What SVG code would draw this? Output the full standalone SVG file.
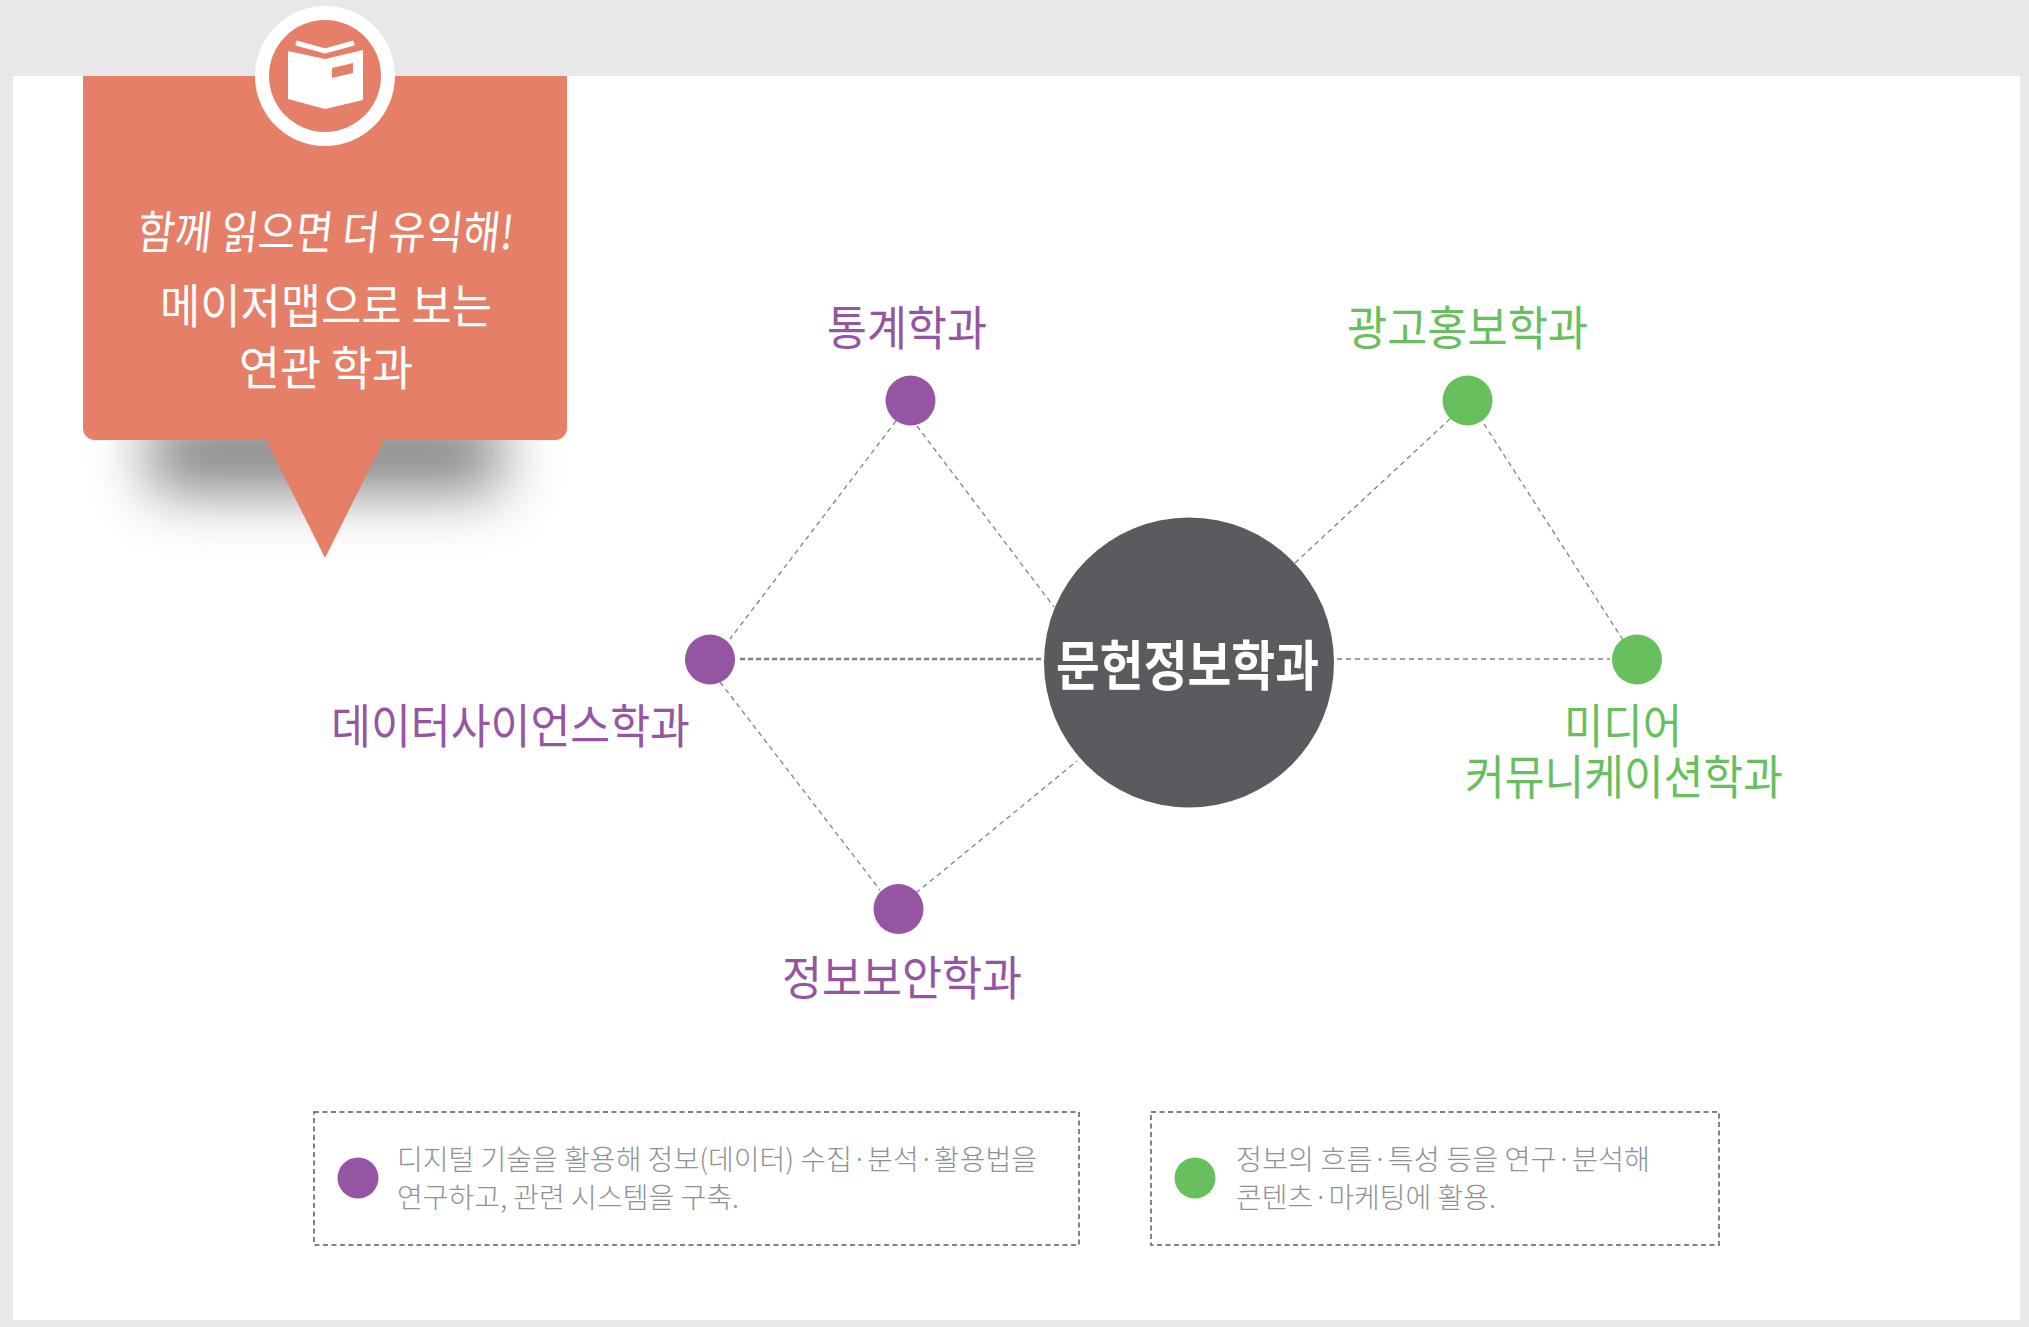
<svg xmlns="http://www.w3.org/2000/svg" width="2029" height="1327" viewBox="0 0 2029 1327">
<style>
text{font-family:"Noto Sans CJK KR","Noto Sans",sans-serif;text-anchor:start}
.lab{font-size:47px;font-weight:400}
.p{fill:#9655a3}.g{fill:#67bf5d}.o{fill:#e57f67}
.w{fill:#fff}
.leg{font-size:28px;font-weight:300;fill:#8f9194}
.con{stroke:#808285;stroke-width:1.3;stroke-dasharray:5 4;fill:none}
.box{fill:#fff;stroke:#58595b;stroke-width:1.5;stroke-dasharray:5 3.5}
</style>
<defs><filter id="blur" x="-50%" y="-200%" width="200%" height="500%"><feGaussianBlur stdDeviation="30"/></filter></defs>
<rect width="2029" height="1327" fill="#e8e7ea"/>
<rect x="13" y="76" width="2007" height="1244" fill="#fff"/>

<g id="callout">
<rect x="150" y="415" width="350" height="76" fill="#555" filter="url(#blur)" opacity=".74"/>
<path class="o" d="M83 76H567V428a12 12 0 0 1-12 12H384L325 558L266 440H95a12 12 0 0 1-12-12Z"/>
<circle cx="325" cy="76" r="70" class="w"/>
<circle cx="325" cy="76" r="56" class="o"/>
<path class="w" d="M288 51L325 59L363 50V100L325 109L288 99Z"/>
<path d="M296 43L325 51L354 43" fill="none" stroke="#fff" stroke-width="5"/>
<path class="o" d="M332 68L353 63V73L332 78Z"/>
<text class="w" transform="translate(136 249) skewX(-6)" font-size="46" font-weight="400" textLength="376" lengthAdjust="spacingAndGlyphs">함께 읽으면 더 유익해!</text>
<text class="w lab" x="160" y="323" textLength="332" lengthAdjust="spacingAndGlyphs">메이저맵으로 보는</text>
<text class="w lab" x="239" y="385" textLength="174" lengthAdjust="spacingAndGlyphs">연관 학과</text>
</g>

<g id="connectors">
<path class="con" d="M896 421L730 639"/>
<path class="con" d="M917 426L1054 607"/>
<path class="con" style="stroke-width:2.4;stroke-dasharray:5 3" d="M740 659H1043"/>
<path class="con" d="M1337 659H1610"/>
<path class="con" d="M720 682L880 890"/>
<path class="con" d="M916 893L1077 761"/>
<path class="con" d="M1295 563L1452 417"/>
<path class="con" d="M1484 424L1623 640"/>
</g>

<g id="node-main">
<circle cx="1189" cy="662.5" r="145" fill="#5a5b5f"/>
<text class="w" x="1056" y="686" font-size="54" font-weight="700" textLength="263" lengthAdjust="spacingAndGlyphs">문헌정보학과</text>
</g>
<g id="node-stat"><circle class="p" cx="910.5" cy="400.5" r="25"/><text class="p lab" x="827" y="345" textLength="160" lengthAdjust="spacingAndGlyphs">통계학과</text></g>
<g id="node-data"><circle class="p" cx="710" cy="659.5" r="25"/><text class="p lab" x="331" y="743" textLength="359" lengthAdjust="spacingAndGlyphs">데이터사이언스학과</text></g>
<g id="node-sec"><circle class="p" cx="898.5" cy="909" r="25"/><text class="p lab" x="782" y="995" textLength="240" lengthAdjust="spacingAndGlyphs">정보보안학과</text></g>
<g id="node-ad"><circle class="g" cx="1467.5" cy="400.5" r="25"/><text class="g lab" x="1347" y="345" textLength="241" lengthAdjust="spacingAndGlyphs">광고홍보학과</text></g>
<g id="node-media"><circle class="g" cx="1637" cy="659.5" r="25"/><text class="g lab" x="1564" y="743" textLength="118" lengthAdjust="spacingAndGlyphs">미디어</text><text class="g lab" x="1465" y="794" textLength="318" lengthAdjust="spacingAndGlyphs">커뮤니케이션학과</text></g>

<g id="legend-purple">
<rect class="box" x="314" y="1112" width="765" height="133"/>
<circle class="p" cx="358" cy="1178" r="20.5"/>
<text class="leg" x="397" y="1170" textLength="640" lengthAdjust="spacingAndGlyphs">디지털 기술을 활용해 정보(데이터) 수집·분석·활용법을</text>
<text class="leg" x="397" y="1208" textLength="342" lengthAdjust="spacingAndGlyphs">연구하고, 관련 시스템을 구축.</text>
</g>
<g id="legend-green">
<rect class="box" x="1151" y="1112" width="568" height="133"/>
<circle class="g" cx="1195" cy="1178" r="20.5"/>
<text class="leg" x="1236" y="1170" textLength="414" lengthAdjust="spacingAndGlyphs">정보의 흐름·특성 등을 연구·분석해</text>
<text class="leg" x="1236" y="1208" textLength="260" lengthAdjust="spacingAndGlyphs">콘텐츠·마케팅에 활용.</text>
</g>
</svg>
